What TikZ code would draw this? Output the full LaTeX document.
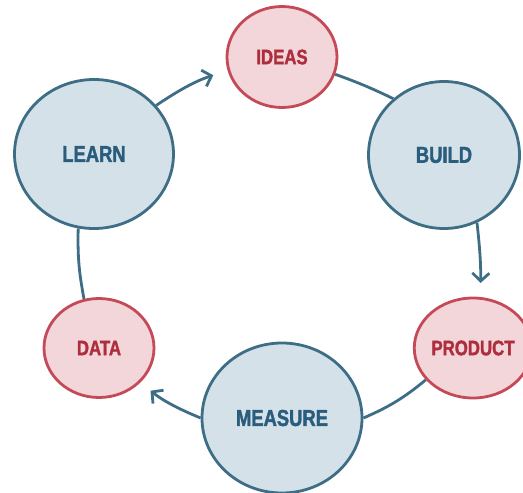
\documentclass[tikz,border=0pt]{standalone}
\usepackage{fontspec}
\setmainfont{Liberation Sans}
\newfontfamily\condfont{Liberation Sans}[FakeStretch=0.8,FakeBold=1.6]
\usetikzlibrary{shapes.geometric,arrows.meta}
\definecolor{bfill}{HTML}{D4E1E8}
\definecolor{bline}{HTML}{3D6E85}
\definecolor{btext}{HTML}{2A5C7D}
\definecolor{rfill}{HTML}{F3D6DA}
\definecolor{rline}{HTML}{C54A58}
\definecolor{rtext}{HTML}{AE2E3E}
\tikzset{
  bignode/.style={ellipse, draw=bline, fill=bfill, line width=2.8pt, inner sep=0pt,
    text=btext, font=\condfont\bfseries\fontsize{23}{23}\selectfont},
  smallnode/.style={ellipse, draw=rline, fill=rfill, line width=2.8pt, inner sep=0pt,
    text=rtext, font=\condfont\bfseries\fontsize{21}{21}\selectfont},
  link/.style={draw=bline, line width=2.8pt},
  arrowlink/.style={link, -{Straight Barb[length=8pt,width=17pt]}},
}
\begin{document}
\begin{tikzpicture}[x=1pt,y=-1pt]
\useasboundingbox (0,0) rectangle (523,493);
\node[smallnode, minimum width=110pt, minimum height=101pt] (ideas) at (282,57) {IDEAS};
\node[bignode, minimum width=159pt, minimum height=149pt] (learn) at (94,154) {LEARN};
\node[bignode, minimum width=151pt, minimum height=147pt] (build) at (444,155) {BUILD};
\node[smallnode, minimum width=110pt, minimum height=99pt] (data) at (99,348) {DATA};
\node[smallnode, minimum width=108pt, minimum height=100pt] (product) at (473,348) {PRODUCT};
\node[bignode, minimum width=160pt, minimum height=150pt] (measure) at (282,418) {MEASURE};
\draw[arrowlink, shorten >=15pt] (learn.38) to[bend left=8] (ideas.194);
\draw[link] (ideas.-18) to[bend left=3] (build.132);
\draw[arrowlink, shorten >=14pt] (build.-64) to[bend left=4] (product.82);
\draw[link] (product.214) to[bend left=8] (measure.0);
\draw[arrowlink, shorten >=13pt] (measure.180) to[bend left=8] (data.-40);
\draw[link] (data.107) to[bend left=6] (learn.-102);
\end{tikzpicture}
\end{document}
